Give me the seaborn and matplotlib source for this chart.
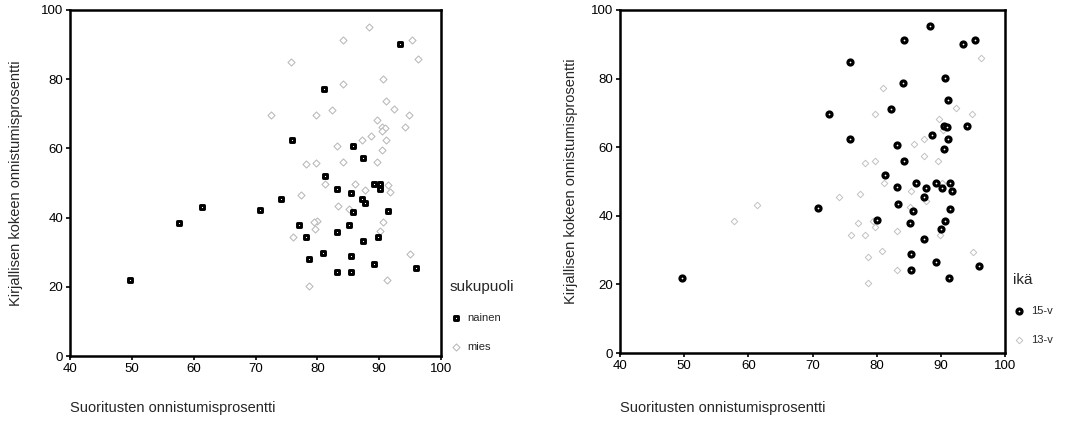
import numpy as np
import pandas as pd
import matplotlib
matplotlib.use("Agg")
import matplotlib.pyplot as plt
import seaborn as sns

# ---- data ----
nainen_x = [93.4, 81.0, 75.9, 85.8, 87.4, 81.3, 83.2, 85.4, 89.2, 90.2, 90.2, 87.3, 87.7,
            74.2, 70.8, 91.5, 85.7, 85.2, 77.1, 78.2, 83.2, 89.8, 87.4, 80.9, 78.7, 85.4,
            89.2, 83.2, 85.4, 96.0, 49.7, 57.7, 61.3]
nainen_y = [90.2, 77.2, 62.5, 60.8, 57.3, 51.9, 48.3, 47.2, 49.7, 49.7, 48.2, 45.5, 44.3,
            45.5, 42.2, 42.0, 41.5, 37.8, 37.8, 34.4, 35.7, 34.4, 33.2, 29.7, 28.0, 29.0,
            26.6, 24.2, 24.2, 25.4, 21.9, 38.5, 43.1]
nainen_age = ["15-v", "13-v", "15-v", "13-v", "13-v", "15-v", "15-v", "13-v", "15-v", "13-v",
              "15-v", "15-v", "13-v", "13-v", "15-v", "15-v", "15-v", "15-v", "13-v", "13-v",
              "13-v", "13-v", "15-v", "13-v", "13-v", "15-v", "15-v", "13-v", "15-v", "15-v",
              "15-v", "13-v", "13-v"]

mies15_x = [88.3, 84.2, 95.3, 75.8, 90.6, 84.1, 91.1, 72.5, 82.3, 90.5, 91.0, 94.1, 88.6,
            91.1, 83.2, 90.5, 84.2, 86.1, 87.7, 91.5, 91.8, 83.3, 80.0, 90.6, 90.1, 91.2]
mies15_y = [95.2, 91.2, 91.2, 84.9, 80.1, 78.6, 73.7, 69.6, 71.0, 66.2, 65.8, 66.2, 63.5,
            62.5, 60.7, 59.6, 56.0, 49.7, 48.0, 49.5, 47.3, 43.3, 38.9, 38.6, 36.2, 21.9]

mies13_x = [96.3, 92.4, 94.9, 79.8, 89.7, 90.4, 87.3, 79.8, 78.2, 89.6, 81.2, 85.2, 77.4,
            79.5, 79.7, 76.0, 95.0, 78.7]
mies13_y = [85.9, 71.4, 69.6, 69.6, 68.1, 65.1, 62.5, 55.9, 55.4, 56.0, 49.7, 42.5, 46.4,
            38.6, 36.7, 34.3, 29.5, 20.3]

x_label = "Suoritusten onnistumisprosentti"
y_label = "Kirjallisen kokeen onnistumisprosentti"
x_ticks = [40, 50, 60, 70, 80, 90, 100]
y_ticks = [0, 20, 40, 60, 80, 100]

df = pd.DataFrame({
    "suoritus": nainen_x + mies15_x + mies13_x,
    "kirjallinen": nainen_y + mies15_y + mies13_y,
    "sukupuoli": ["nainen"] * len(nainen_x) + ["mies"] * (len(mies15_x) + len(mies13_x)),
    "ikä": nainen_age + ["15-v"] * len(mies15_x) + ["13-v"] * len(mies13_x),
})

sns.set_style("white")
plt.rcParams["font.family"] = ["Liberation Sans", "DejaVu Sans"]

fig = plt.figure(figsize=(10.82, 4.23), dpi=100)
ax1 = fig.add_axes([70 / 1082, 1 - 356 / 423, 371 / 1082, 346 / 423])
ax2 = fig.add_axes([620 / 1082, 1 - 353 / 423, 385 / 1082, 343 / 423])

light_kw = dict(marker="D", s=13, facecolor="white", edgecolor="#b8b8b8", linewidth=0.75)

# left: by gender
sns.scatterplot(data=df[df["sukupuoli"] == "mies"], x="suoritus", y="kirjallinen",
                ax=ax1, label="mies", zorder=2, **light_kw)
sns.scatterplot(data=df[df["sukupuoli"] == "nainen"], x="suoritus", y="kirjallinen",
                ax=ax1, label="nainen", marker="s", s=11, facecolor="white",
                edgecolor="black", linewidth=2.1, zorder=3)

# right: by age
sns.scatterplot(data=df[df["ikä"] == "13-v"], x="suoritus", y="kirjallinen",
                ax=ax2, label="13-v", zorder=2,
                **dict(light_kw, s=11, edgecolor="#c2c2c2", linewidth=0.7))
sns.scatterplot(data=df[df["ikä"] == "15-v"], x="suoritus", y="kirjallinen",
                ax=ax2, label="15-v", marker="o", s=13, facecolor="white",
                edgecolor="black", linewidth=2.3, zorder=3)

for ax, lab_x, lab_y in [(ax1, -0.128, -0.13), (ax2, -0.11, -0.14)]:
    ax.set_xlim(40, 100)
    ax.set_ylim(0, 100)
    ax.set_xticks(x_ticks)
    ax.set_yticks(y_ticks)
    ax.tick_params(axis="both", which="major", labelsize=9.5, length=3, width=1.2,
                   direction="out", left=True, bottom=True, pad=2, colors="black")
    for sp in ax.spines.values():
        sp.set_visible(True)
        sp.set_color("black")
        sp.set_linewidth(1.8)
    ax.set_ylabel(y_label, fontsize=10.5)
    ax.yaxis.set_label_coords(lab_x, 0.5)
    ax.set_xlabel(x_label, fontsize=10.5, loc="left")
    ax.xaxis.set_label_coords(0.0, lab_y)
    ax.xaxis.label.set_ha("left")

def place_legend(ax, order, title, x, y):
    handles, labels = ax.get_legend_handles_labels()
    hmap = dict(zip(labels, handles))
    leg = ax.legend([hmap[k] for k in order], order, title=title, frameon=False,
                    loc="upper left", bbox_to_anchor=(x / 1082, 1 - y / 423),
                    bbox_transform=fig.transFigure, fontsize=8, title_fontsize=11,
                    labelspacing=1.7, handletextpad=0.6, handlelength=1.0,
                    borderaxespad=0, borderpad=0)
    leg._legend_box.align = "left"
    return leg

place_legend(ax1, ["nainen", "mies"], "sukupuoli", 450, 280)
place_legend(ax2, ["15-v", "13-v"], "ikä", 1013, 273)

fig.savefig("out.png", dpi=100)
